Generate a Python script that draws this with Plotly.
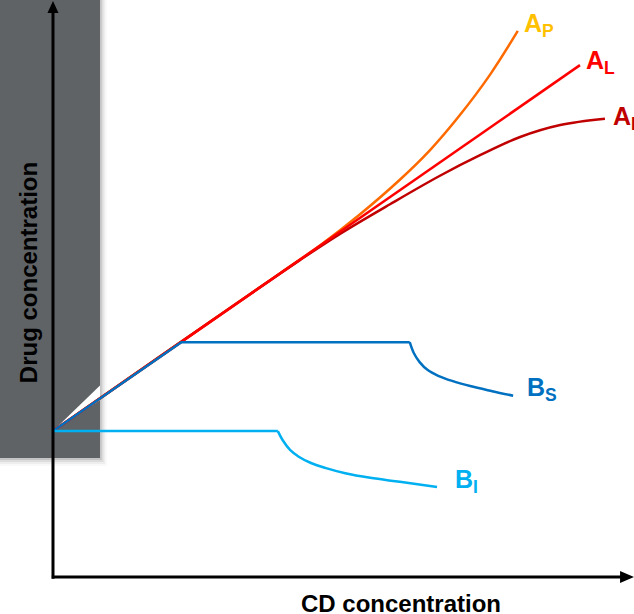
import plotly.graph_objects as go

# ---- data (arbitrary units: CD concentration vs drug concentration) ----
S0 = 2.56  # intrinsic drug solubility

AL_x = [0.0, 9.07]
AL_y = [S0, 8.98]

AP_x = [0.0, 2.00, 3.91, 4.60, 5.28, 5.97, 6.49, 7.00, 7.52, 8.00]
AP_y = [S0, 3.98, 5.33, 5.82, 6.36, 6.97, 7.49, 8.10, 8.81, 9.58]

AN_x = [0.0, 2.00, 3.39, 4.25, 4.94, 5.80, 6.66, 7.35, 8.04, 8.73, 9.50]
AN_y = [S0, 3.98, 4.96, 5.56, 6.02, 6.54, 7.04, 7.40, 7.72, 7.93, 8.04]

BS_lin_x = [0.0, 2.21, 6.14]
BS_lin_y = [S0, 4.12, 4.12]
BS_cur_x = [6.14, 6.21, 6.31, 6.45, 6.63, 6.87, 7.18, 7.56, 7.92]
BS_cur_y = [4.12, 3.93, 3.77, 3.63, 3.53, 3.44, 3.35, 3.26, 3.18]

BI_lin_x = [0.0, 3.87]
BI_lin_y = [S0, S0]
BI_cur_x = [3.87, 3.96, 4.08, 4.23, 4.44, 4.70, 5.03, 5.46, 5.97, 6.61]
BI_cur_y = [S0, 2.39, 2.23, 2.11, 2.00, 1.91, 1.82, 1.74, 1.67, 1.58]

labels = ["A<sub>P</sub>", "A<sub>L</sub>", "A<sub>N</sub>", "B<sub>S</sub>", "B<sub>I</sub>"]
label_x = [8.07, 9.14, 9.60, 8.12, 6.88]
label_y = [9.69, 9.03, 8.06, 3.30, 1.68]
label_col = ["#FFC000", "#FF0000", "#C00000", "#0070C0", "#00B0F0"]

x_title = "CD concentration"
y_title = "Drug concentration"

# ---- styling ----
C_AP = "#FF6A00"
C_AL = "#FF0000"
C_AN = "#C00000"
C_BS = "#0070C0"
C_BI = "#00B0F0"
LW = 2.5
FONT = "Arial, Liberation Sans, sans-serif"

XR = [-0.912, 10.0]
YR = [-0.649, 10.123]

fig = go.Figure()

# white glare wedge near origin
fig.add_trace(go.Scatter(x=[0, 0.809, 0.809, 0], y=[S0, 3.36, 3.10, S0], fill="toself",
                         fillcolor="white", line=dict(width=0), mode="lines",
                         hoverinfo="skip", showlegend=False))

def curve(x, y, c, shape="linear"):
    fig.add_trace(go.Scatter(x=x, y=y, mode="lines",
                             line=dict(color=c, width=LW, shape=shape, smoothing=1.0),
                             hoverinfo="skip", showlegend=False))

curve(AP_x, AP_y, C_AP, "spline")
curve(AN_x, AN_y, C_AN, "spline")
curve(AL_x, AL_y, C_AL)
curve(BS_lin_x, BS_lin_y, C_BS)
curve(BS_cur_x, BS_cur_y, C_BS, "spline")
curve(BI_lin_x, BI_lin_y, C_BI)
curve(BI_cur_x, BI_cur_y, C_BI, "spline")

shapes = []
# drop shadow of grey panel
for i, a in enumerate([0.10, 0.07, 0.045, 0.025]):
    dx = 0.03 * (i + 1)
    dy = 0.035 * (i + 1)
    shapes.append(dict(type="rect", xref="x", yref="y", x0=XR[0], x1=0.809 + dx,
                       y0=2.088 - dy, y1=YR[1], fillcolor=f"rgba(0,0,0,{a})",
                       line=dict(width=0), layer="below"))
shapes.append(dict(type="rect", xref="x", yref="y", x0=XR[0], x1=0.809, y0=2.088, y1=YR[1],
                   fillcolor="#5F6366", line=dict(width=0), layer="below"))
# axes
shapes.append(dict(type="line", xref="x", yref="y", x0=0, x1=0, y0=-0.03, y1=9.95,
                   line=dict(color="black", width=3)))
shapes.append(dict(type="line", xref="x", yref="y", x0=-0.02, x1=9.85, y0=0, y1=0,
                   line=dict(color="black", width=3)))
# arrow heads
shapes.append(dict(type="path", xref="x", yref="y",
                   path="M -0.095,9.895 L 0.095,9.895 L 0,10.105 Z",
                   fillcolor="black", line=dict(width=0)))
shapes.append(dict(type="path", xref="x", yref="y",
                   path="M 9.76,0.105 L 9.76,-0.105 L 10.0,0 Z",
                   fillcolor="black", line=dict(width=0)))

ann = []
for t, x, y, c in zip(labels, label_x, label_y, label_col):
    ann.append(dict(x=x, y=y, xref="x", yref="y", text=t, showarrow=False,
                    xanchor="left", yanchor="middle",
                    font=dict(family=FONT, size=25, color=c, weight="bold")))
ann.append(dict(x=5.99, y=-0.456, xref="x", yref="y", text=x_title, showarrow=False,
                xanchor="center", yanchor="middle",
                font=dict(family=FONT, size=24, color="black", weight="bold")))
ann.append(dict(x=-0.43, y=5.33, xref="x", yref="y", text=y_title, showarrow=False,
                textangle=-90, xanchor="center", yanchor="middle",
                font=dict(family=FONT, size=24, color="black", weight="bold")))

fig.update_layout(
    width=634, height=614,
    margin=dict(l=0, r=0, t=0, b=0),
    paper_bgcolor="white", plot_bgcolor="white",
    xaxis=dict(range=XR, visible=False, fixedrange=True),
    yaxis=dict(range=YR, visible=False, fixedrange=True),
    shapes=shapes, annotations=ann, showlegend=False,
)

fig.write_html("out.html", config={"displayModeBar": False},
               post_script="document.body.style.margin='0';document.body.style.overflow='hidden';")
